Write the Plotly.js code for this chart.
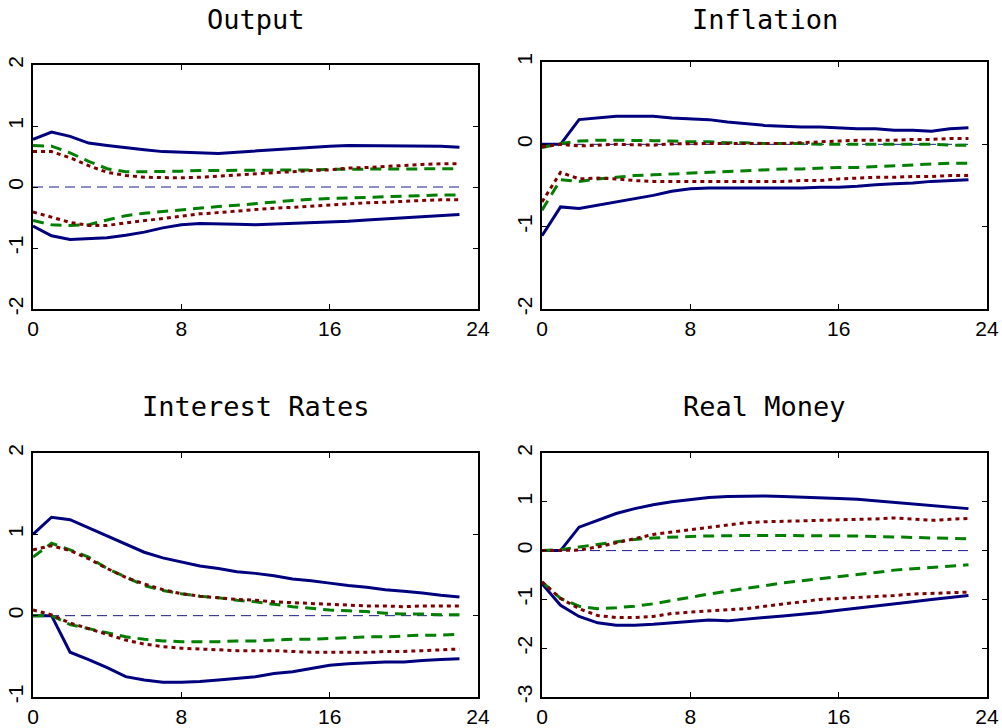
<!DOCTYPE html>
<html>
<head>
<meta charset="utf-8">
<script src="https://cdn.plot.ly/plotly-3.0.1.min.js"></script>
<style>
html,body{margin:0;padding:0;background:#fff;}
#chart{width:1002px;height:728px;}
</style>
</head>
<body>
<div id="chart"></div>
<script>
// ---- data ----
const horizon = [0,1,2,3,4,5,6,7,8,9,10,11,12,13,14,15,16,17,18,19,20,21,22,23];
const panelTitles = ["Output", "Inflation", "Interest Rates", "Real Money"];
const xTickVals = [0, 8, 16, 24];
const xTickText = ["0", "8", "16", "24"];

// Output
const outSolidUp = [0.78,0.90,0.83,0.72,0.68,0.64,0.61,0.58,0.57,0.55,0.55,0.57,0.59,0.61,0.64,0.66,0.67,0.68,0.68,0.68,0.68,0.68,0.67,0.65];
const outDashUp  = [0.68,0.67,0.56,0.42,0.30,0.25,0.25,0.25,0.26,0.27,0.27,0.28,0.28,0.28,0.28,0.28,0.29,0.29,0.30,0.30,0.30,0.30,0.30,0.30];
const outDotUp   = [0.58,0.58,0.48,0.35,0.24,0.19,0.16,0.15,0.15,0.16,0.18,0.20,0.21,0.23,0.25,0.27,0.28,0.31,0.32,0.34,0.36,0.37,0.38,0.38];
const outDashLo  = [-0.55,-0.62,-0.63,-0.62,-0.54,-0.47,-0.43,-0.40,-0.37,-0.35,-0.32,-0.30,-0.27,-0.25,-0.22,-0.20,-0.19,-0.17,-0.16,-0.15,-0.15,-0.14,-0.13,-0.13];
const outDotLo   = [-0.41,-0.49,-0.58,-0.63,-0.63,-0.59,-0.55,-0.51,-0.47,-0.44,-0.42,-0.39,-0.37,-0.35,-0.33,-0.31,-0.29,-0.27,-0.26,-0.25,-0.23,-0.22,-0.21,-0.21];
const outSolidLo = [-0.64,-0.80,-0.86,-0.85,-0.83,-0.79,-0.74,-0.67,-0.62,-0.60,-0.60,-0.61,-0.62,-0.61,-0.60,-0.59,-0.57,-0.56,-0.54,-0.52,-0.50,-0.48,-0.46,-0.45];
const outYTicks = [-2,-1,0,1,2];
const outYText  = ["-2","-1","0","1","2"];

// Inflation
const infSolidUp = [0,0,0.30,0.32,0.34,0.34,0.34,0.32,0.31,0.30,0.27,0.25,0.23,0.22,0.21,0.21,0.20,0.19,0.19,0.17,0.17,0.16,0.19,0.20];
const infDashUp  = [-0.04,0.01,0.04,0.05,0.05,0.05,0.045,0.04,0.03,0.03,0.02,0.02,0.01,0.01,0.01,0,0,0,0,0,0,0,-0.01,-0.01];
const infDotUp   = [-0.03,0,-0.02,-0.01,0,-0.005,-0.01,0.005,0.01,0.01,0.01,0.01,0.01,0.01,0.02,0.03,0.045,0.05,0.05,0.05,0.06,0.06,0.07,0.07];
const infDashLo  = [-0.80,-0.43,-0.45,-0.42,-0.40,-0.38,-0.37,-0.36,-0.35,-0.34,-0.33,-0.32,-0.31,-0.30,-0.30,-0.29,-0.28,-0.28,-0.27,-0.26,-0.25,-0.24,-0.23,-0.23];
const infDotLo   = [-0.70,-0.34,-0.42,-0.41,-0.42,-0.44,-0.45,-0.45,-0.45,-0.45,-0.45,-0.45,-0.45,-0.45,-0.44,-0.44,-0.42,-0.41,-0.40,-0.40,-0.39,-0.39,-0.38,-0.38];
const infSolidLo = [-1.11,-0.76,-0.78,-0.74,-0.70,-0.66,-0.62,-0.57,-0.54,-0.53,-0.53,-0.53,-0.53,-0.53,-0.53,-0.52,-0.52,-0.51,-0.49,-0.48,-0.47,-0.45,-0.44,-0.43];
const infYTicks = [-2,-1,0,1];
const infYText  = ["-2","-1","0","1"];

// Interest Rates
const intSolidUp = [1.00,1.21,1.18,1.08,0.98,0.88,0.78,0.71,0.66,0.61,0.58,0.54,0.52,0.49,0.45,0.43,0.40,0.37,0.35,0.32,0.30,0.28,0.25,0.23];
const intDashUp  = [0.72,0.89,0.81,0.72,0.58,0.47,0.37,0.31,0.27,0.24,0.22,0.19,0.17,0.14,0.11,0.09,0.07,0.06,0.05,0.03,0.02,0.02,0.01,0.01];
const intDotUp   = [0.81,0.86,0.80,0.70,0.58,0.47,0.39,0.32,0.27,0.24,0.22,0.20,0.19,0.17,0.16,0.15,0.14,0.13,0.12,0.12,0.11,0.12,0.12,0.12];
const intDashLo  = [0,0,-0.11,-0.16,-0.21,-0.26,-0.29,-0.31,-0.32,-0.32,-0.32,-0.31,-0.31,-0.30,-0.29,-0.29,-0.28,-0.27,-0.26,-0.26,-0.25,-0.24,-0.24,-0.23];
const intDotLo   = [0.07,0.01,-0.09,-0.16,-0.23,-0.30,-0.35,-0.38,-0.40,-0.41,-0.42,-0.43,-0.43,-0.43,-0.44,-0.45,-0.45,-0.45,-0.45,-0.44,-0.44,-0.43,-0.42,-0.41];
const intSolidLo = [0,0,-0.45,-0.54,-0.64,-0.75,-0.79,-0.82,-0.82,-0.81,-0.79,-0.77,-0.75,-0.71,-0.69,-0.65,-0.61,-0.59,-0.58,-0.57,-0.57,-0.55,-0.54,-0.53];
const intYTicks = [-1,0,1,2];
const intYText  = ["-1","0","1","2"];

// Real Money
const monSolidUp = [0,0,0.48,0.62,0.76,0.86,0.94,1.00,1.05,1.09,1.11,1.12,1.12,1.11,1.10,1.09,1.07,1.05,1.02,0.99,0.96,0.92,0.89,0.86];
const monDashUp  = [0,0.02,0.075,0.13,0.18,0.23,0.26,0.28,0.29,0.30,0.31,0.31,0.31,0.31,0.31,0.31,0.31,0.30,0.29,0.28,0.27,0.26,0.25,0.24];
const monDotUp   = [0,0,0.01,0.075,0.16,0.25,0.33,0.38,0.43,0.47,0.52,0.57,0.59,0.60,0.61,0.62,0.62,0.64,0.65,0.67,0.65,0.62,0.64,0.66];
const monDashLo  = [-0.64,-0.98,-1.14,-1.19,-1.17,-1.14,-1.09,-1.02,-0.95,-0.89,-0.83,-0.78,-0.72,-0.66,-0.62,-0.58,-0.54,-0.50,-0.45,-0.40,-0.37,-0.34,-0.31,-0.29];
const monDotLo   = [-0.64,-0.98,-1.19,-1.33,-1.37,-1.37,-1.35,-1.29,-1.26,-1.24,-1.22,-1.19,-1.14,-1.10,-1.05,-1.00,-0.98,-0.96,-0.95,-0.92,-0.89,-0.88,-0.87,-0.85];
const monSolidLo = [-0.68,-1.12,-1.35,-1.48,-1.53,-1.53,-1.51,-1.48,-1.45,-1.42,-1.44,-1.40,-1.37,-1.34,-1.31,-1.27,-1.22,-1.18,-1.14,-1.10,-1.05,-1.00,-0.96,-0.92];
const monYTicks = [-3,-2,-1,0,1,2];
const monYText  = ["-3","-2","-1","0","1","2"];

const zeroLevel = 0;

// ---- styles ----
const SOLID = {color:'#00007f', width:3, dash:'solid'};
const DASH  = {color:'#007f00', width:3, dash:'11px,7px'};
const DOT   = {color:'#7f0000', width:3, dash:'4px,4px'};
const ZERO  = {color:'#1a1a90', width:1, dash:'10px,6px'};
const TICKFONT = {family:'Liberation Sans, Arial, sans-serif', size:21, color:'#000'};

const panels = [
  {ax:'', sets:[outSolidUp,outSolidLo,outDashUp,outDashLo,outDotUp,outDotLo], yr:[-2,2], yt:outYTicks, ytt:outYText,
   xd:[33/1002, 478/1002], yd:[1-309/728, 1-65/728]},
  {ax:'2', sets:[infSolidUp,infSolidLo,infDashUp,infDashLo,infDotUp,infDotLo], yr:[-2,1], yt:infYTicks, ytt:infYText,
   xd:[542/1002, 987/1002], yd:[1-309/728, 1-62/728]},
  {ax:'3', sets:[intSolidUp,intSolidLo,intDashUp,intDashLo,intDotUp,intDotLo], yr:[-1,2], yt:intYTicks, ytt:intYText,
   xd:[33/1002, 478/1002], yd:[1-697/728, 1-453/728]},
  {ax:'4', sets:[monSolidUp,monSolidLo,monDashUp,monDashLo,monDotUp,monDotLo], yr:[-3,2], yt:monYTicks, ytt:monYText,
   xd:[542/1002, 987/1002], yd:[1-697/728, 1-453/728]}
];
const styles = [SOLID, SOLID, DASH, DASH, DOT, DOT];

const traces = [];
const layout = {
  width:1002, height:728,
  margin:{l:0,r:0,t:0,b:0},
  paper_bgcolor:'#ffffff', plot_bgcolor:'#ffffff',
  showlegend:false,
  font:TICKFONT,
  annotations:[]
};
const titleY = [1-19/728, 1-19/728, 1-406/728, 1-406/728];

panels.forEach((p, i) => {
  const xa = 'x' + p.ax, ya = 'y' + p.ax;
  traces.push({x:[horizon[0], horizon[horizon.length-1]], y:[zeroLevel, zeroLevel], xaxis:xa, yaxis:ya,
    mode:'lines', line:ZERO, hoverinfo:'skip'});
  p.sets.forEach((s, k) => {
    traces.push({x:horizon, y:s, xaxis:xa, yaxis:ya, mode:'lines', line:styles[k]});
  });
  const common = {showline:true, linecolor:'#000', linewidth:2, mirror:'ticks', ticks:'inside', ticklen:5,
    tickwidth:1, tickcolor:'#000', showgrid:false, zeroline:false, fixedrange:true, tickfont:TICKFONT};
  layout['xaxis' + p.ax] = Object.assign({}, common, {domain:p.xd, range:[0,24], anchor:ya,
    tickmode:'array', tickvals:xTickVals, ticktext:xTickText});
  layout['yaxis' + p.ax] = Object.assign({}, common, {domain:p.yd, range:p.yr, anchor:xa,
    tickmode:'array', tickvals:p.yt, ticktext:p.ytt, tickangle:-90});
  layout.annotations.push({text:panelTitles[i], xref:'paper', yref:'paper',
    x:(p.xd[0]+p.xd[1])/2, y:titleY[i], xanchor:'center', yanchor:'middle', showarrow:false,
    font:{family:'DejaVu Sans Mono, monospace', size:27, color:'#000'}});
});

Plotly.newPlot('chart', traces, layout, {staticPlot:true, displayModeBar:false});
</script>
</body>
</html>
